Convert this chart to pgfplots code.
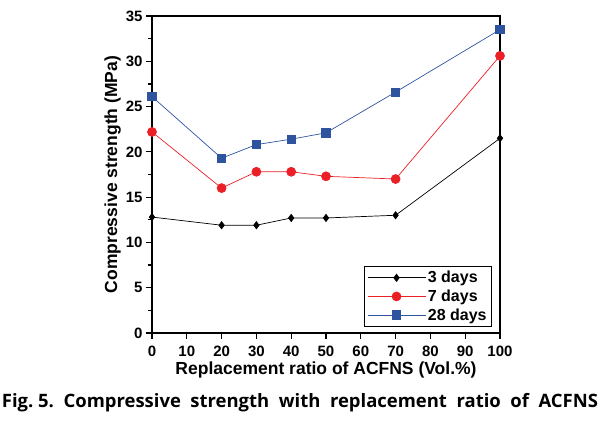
\documentclass[border=0pt]{standalone}
\usepackage{fontspec}
\setmainfont{Liberation Sans}
\newfontfamily\capfont{Open Sans}
\usepackage{graphicx}
\usepackage{pgfplots}
\pgfplotsset{compat=1.18}
\definecolor{cblue}{RGB}{46,84,160}
\definecolor{cred}{RGB}{235,32,39}
\begin{document}
\begin{tikzpicture}
\useasboundingbox (-152pt,-89pt) rectangle (453pt,333pt);
\begin{axis}[
  at={(0pt,0pt)}, anchor=south west,
  scale only axis, width=348pt, height=317pt,
  xmin=0, xmax=100, ymin=0, ymax=35,
  xtick={0,10,...,100}, ytick={0,5,...,35},
  minor y tick num=1,
  tick pos=left, tick align=outside,
  major tick length=6pt, minor tick length=4pt,
  axis line style={line width=1.6pt},
  every tick/.style={black, line width=1.2pt},
  tick label style={font=\bfseries\fontsize{15}{17}\selectfont},
  xticklabel style={yshift=-3pt},
  /pgf/number format/assume math mode=true,
  xlabel={\bfseries\fontsize{17.5}{19}\selectfont Replacement ratio of ACFNS (Vol.\%)},
  ylabel={\bfseries\fontsize{17.5}{19}\selectfont Compressive strength (MPa)},
  xlabel style={yshift=1pt},
  ylabel style={yshift=-2pt},
  legend style={at={(0.977,0.019)}, anchor=south east, draw=black, line width=0.8pt,
    font=\bfseries\fontsize{16}{17}\selectfont, row sep=1.5pt, inner sep=3pt},
  legend cell align=left,
  legend image code/.code={\draw[mark repeat=2,mark phase=2,#1] plot coordinates {(0pt,0pt) (29pt,0pt) (58pt,0pt)};},
  clip=false,
]
\addplot[black, line width=0.7pt, mark=diamond*, mark size=3.6pt, mark options={solid, fill=black}]
  coordinates {(0,12.8) (20,11.9) (30,11.9) (40,12.7) (50,12.7) (70,13.0) (100,21.5)};
\addlegendentry{3 days}
\addplot[cred, line width=0.7pt, mark=*, mark size=4.5pt, mark options={solid, fill=cred}]
  coordinates {(0,22.2) (20,16.0) (30,17.8) (40,17.8) (50,17.3) (70,17.0) (100,30.6)};
\addlegendentry{7 days}
\addplot[cblue, line width=0.7pt, mark=square*, mark size=4.2pt, mark options={solid, fill=cblue}]
  coordinates {(0,26.1) (20,19.3) (30,20.8) (40,21.4) (50,22.1) (70,26.6) (100,33.5)};
\addlegendentry{28 days}
\end{axis}
\node at (148pt,-70pt) {\resizebox{596pt}{!}{\capfont\bfseries Fig.~5.\ \ Compressive\ \ strength\ \ with\ \ replacement\ \ ratio\ \ of\ \ ACFNS}};
\end{tikzpicture}
\end{document}
